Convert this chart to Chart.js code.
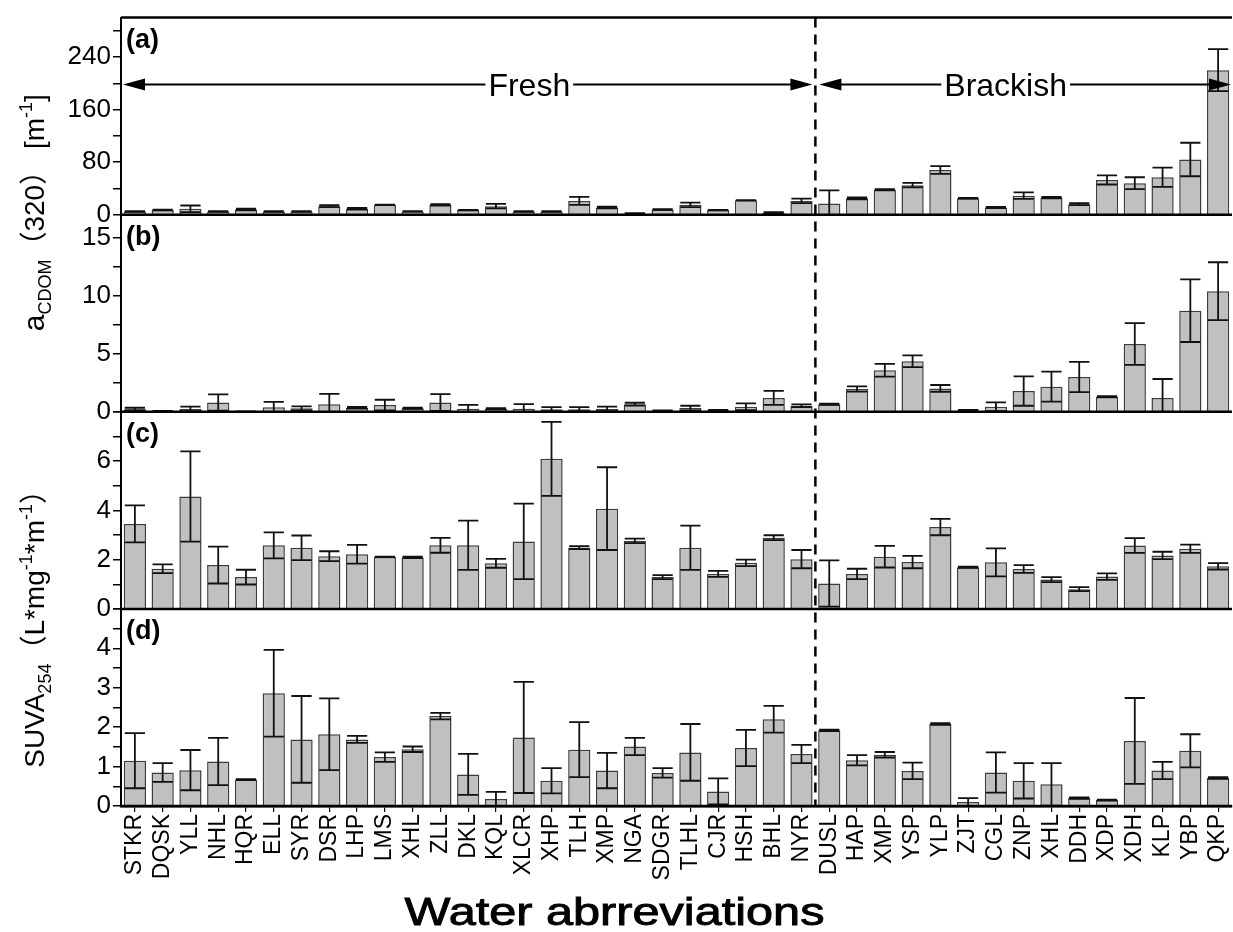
<!DOCTYPE html>
<html>
<head>
<meta charset="utf-8">
<script src="https://cdn.jsdelivr.net/npm/chart.js@4.4.1/dist/chart.umd.min.js"></script>
<style>
  html, body { margin: 0; padding: 0; background: #fff; }
</style>
</head>
<body>
<canvas id="chart" width="1233" height="932"></canvas>
<script>
// sites, fresh waters first then brackish
const sites = ['STKR', 'DQSK', 'YLL', 'NHL', 'HQR', 'ELL', 'SYR', 'DSR', 'LHP', 'LMS',
  'XHL', 'ZLL', 'DKL', 'KQL', 'XLCR', 'XHP', 'TLH', 'XMP', 'NGA', 'SDGR',
  'TLHL', 'CJR', 'HSH', 'BHL', 'NYR',
  'DUSL', 'HAP', 'XMP', 'YSP', 'YLP', 'ZJT', 'CGL', 'ZNP', 'XHL', 'DDH',
  'XDP', 'XDH', 'KLP', 'YBP', 'QKP'];
const freshCount = 25;

// (a) aCDOM(320)
const panelA = [5, 7, 9, 5, 8, 5, 5, 13, 9, 15, 5, 15, 7, 13, 5, 5, 21, 11, 2, 8, 15, 7, 22, 3, 21,
  17, 25, 38, 45, 68, 25, 11, 29, 26, 16, 53, 48, 57, 84, 220];
const panelAErr = [0.5, 0.5, 5, 0.5, 1.2, 0.5, 0.5, 1.5, 1.2, 0.3, 0.3, 1.2, 0.3, 3.5, 0.5, 0.5, 6, 1.2, 0.3, 0.5, 3.5, 0.3, 0.3, 1, 3.5,
  20, 1.5, 1, 3.5, 6, 0.5, 0.8, 5, 1.2, 1.5, 7, 9, 14.5, 25.5, 32];

// (b)
const panelB = [0.23, 0.05, 0.25, 0.8, 0.03, 0.4, 0.3, 0.65, 0.35, 0.58, 0.3, 0.8, 0.26, 0.26, 0.26, 0.23, 0.23, 0.25, 0.66, 0.1, 0.32, 0.14, 0.43, 1.2, 0.52,
  0.66, 1.97, 3.58, 4.36, 2.02, 0.14, 0.43, 1.79, 2.17, 3.0, 1.3, 5.85, 1.18, 8.72, 10.4];
const panelBErr = [0.12, 0.02, 0.2, 0.7, 0.01, 0.45, 0.17, 0.9, 0.08, 0.46, 0.05, 0.72, 0.34, 0.05, 0.4, 0.17, 0.17, 0.2, 0.12, 0.02, 0.2, 0.03, 0.29, 0.6, 0.12,
  0.05, 0.23, 0.55, 0.5, 0.29, 0.03, 0.38, 1.27, 1.3, 1.3, 0.05, 1.8, 1.65, 2.7, 2.5];

// (c) SUVA254
const panelC = [3.45, 1.63, 4.56, 1.78, 1.29, 2.58, 2.48, 2.14, 2.22, 2.11, 2.09, 2.58, 2.58, 1.85, 2.74, 6.09, 2.49, 4.07, 2.76, 1.29, 2.48, 1.42, 1.87, 2.89, 2.02,
  1.03, 1.42, 2.12, 1.9, 3.32, 1.69, 1.89, 1.62, 1.19, 0.8, 1.31, 2.57, 2.17, 2.44, 1.73];
const panelCErr = [0.75, 0.18, 1.83, 0.75, 0.3, 0.53, 0.5, 0.2, 0.38, 0.01, 0.03, 0.3, 1.0, 0.18, 1.53, 1.5, 0.06, 1.68, 0.09, 0.08, 0.9, 0.12, 0.13, 0.1, 0.37,
  0.94, 0.21, 0.44, 0.25, 0.33, 0.02, 0.57, 0.16, 0.1, 0.08, 0.13, 0.3, 0.15, 0.17, 0.13];

// (d)
const panelD = [1.15, 0.85, 0.91, 1.13, 0.67, 2.86, 1.69, 1.82, 1.69, 1.24, 1.44, 2.28, 0.8, 0.18, 1.74, 0.64, 1.43, 0.9, 1.51, 0.84, 1.36, 0.37, 1.47, 2.2, 1.32,
  1.92, 1.16, 1.3, 0.89, 2.08, 0.1, 0.85, 0.64, 0.55, 0.2, 0.15, 1.65, 0.9, 1.4, 0.71];
const panelDErr = [0.7, 0.24, 0.51, 0.6, 0.01, 1.1, 1.1, 0.91, 0.09, 0.12, 0.07, 0.08, 0.52, 0.18, 1.41, 0.32, 0.7, 0.45, 0.22, 0.12, 0.72, 0.33, 0.46, 0.34, 0.23,
  0.02, 0.13, 0.07, 0.21, 0.02, 0.1, 0.51, 0.45, 0.54, 0.02, 0.01, 1.09, 0.22, 0.42, 0.02];

const FONT = "'Liberation Sans', Arial, 'Noto Sans CJK SC', sans-serif";
Chart.defaults.font.family = FONT;
Chart.defaults.color = '#000';

function panelAxis(min, max, step, labelStep, weight) {
  return {
    type: 'linear',
    position: 'left',
    stack: 'panels',
    stackWeight: 1,
    weight: weight,
    min: min,
    max: max,
    border: { display: true, color: '#000', width: 2 },
    grid: { drawOnChartArea: false, drawTicks: true, tickLength: 8, color: '#000', lineWidth: 1.5 },
    ticks: {
      stepSize: step,
      includeBounds: false,
      autoSkip: false,
      padding: 2,
      font: { size: 26 },
      callback: v => {
        const r = v / labelStep;
        return (Math.abs(r - Math.round(r)) < 1e-6 && v < max) ? v : '';
      }
    },
    afterFit: s => { s.width = 121; }
  };
}

const errorBars = {
  id: 'errorBars',
  afterDatasetsDraw(chart) {
    const ctx = chart.ctx;
    const area = chart.chartArea;
    chart.data.datasets.forEach((ds, i) => {
      const meta = chart.getDatasetMeta(i);
      const ys = chart.scales[ds.yAxisID];
      ctx.save();
      ctx.beginPath();
      ctx.rect(area.left, ys.top, area.right - area.left, ys.bottom - ys.top);
      ctx.clip();
      ctx.strokeStyle = '#111';
      ctx.lineWidth = 1.8;
      meta.data.forEach((bar, j) => {
        const v = ds.data[j], e = ds.errors[j];
        const hi = ys.getPixelForValue(v + e);
        const lo = ys.getPixelForValue(v - e);
        const half = bar.width / 2 - 1;
        ctx.beginPath();
        ctx.moveTo(bar.x, hi); ctx.lineTo(bar.x, lo);
        ctx.moveTo(bar.x - half, hi); ctx.lineTo(bar.x + half, hi);
        ctx.moveTo(bar.x - half, lo); ctx.lineTo(bar.x + half, lo);
        ctx.stroke();
      });
      ctx.restore();
    });
  }
};

function arrowHead(ctx, x, y, dir) {
  ctx.beginPath();
  ctx.moveTo(x, y);
  ctx.lineTo(x - dir * 22, y - 6);
  ctx.lineTo(x - dir * 22, y + 6);
  ctx.closePath();
  ctx.fill();
}

function labelledArrow(ctx, x1, x2, y, text, tx) {
  ctx.font = '32px ' + FONT;
  const w = ctx.measureText(text).width;
  ctx.strokeStyle = '#000';
  ctx.fillStyle = '#000';
  ctx.lineWidth = 2;
  ctx.beginPath();
  ctx.moveTo(x1 + 10, y); ctx.lineTo(tx - w / 2 - 3, y);
  ctx.moveTo(tx + w / 2 + 3, y); ctx.lineTo(x2 - 10, y);
  ctx.stroke();
  arrowHead(ctx, x1, y, -1);
  arrowHead(ctx, x2, y, 1);
  ctx.textAlign = 'center';
  ctx.textBaseline = 'middle';
  ctx.fillText(text, tx, y + 3);
}

function richText(ctx, segs, cx, cy) {
  ctx.save();
  ctx.translate(cx, cy);
  ctx.rotate(-Math.PI / 2);
  ctx.textBaseline = 'alphabetic';
  ctx.textAlign = 'left';
  ctx.fillStyle = '#000';
  let total = 0;
  segs.forEach(s => { ctx.font = s[1] + 'px ' + FONT; total += ctx.measureText(s[0]).width; });
  let x = -total / 2;
  segs.forEach(s => {
    ctx.font = s[1] + 'px ' + FONT;
    ctx.fillText(s[0], x, s[2]);
    x += ctx.measureText(s[0]).width;
  });
  ctx.restore();
}

const decorations = {
  id: 'decorations',
  afterDraw(chart) {
    const ctx = chart.ctx;
    const area = chart.chartArea;
    const x = chart.scales.x;
    const panels = ['yA', 'yB', 'yC', 'yD'].map(id => chart.scales[id]);

    // panel frames
    ctx.save();
    ctx.strokeStyle = '#000';
    ctx.lineWidth = 2.5;
    ctx.beginPath();
    ctx.moveTo(area.left, panels[0].top); ctx.lineTo(area.right, panels[0].top);
    panels.forEach(p => { ctx.moveTo(area.left, p.bottom); ctx.lineTo(area.right, p.bottom); });
    ctx.stroke();

    // fresh / brackish divider
    const xd = (x.getPixelForValue(freshCount - 1) + x.getPixelForValue(freshCount)) / 2;
    ctx.lineWidth = 2.5;
    ctx.setLineDash([10, 7]);
    ctx.beginPath();
    ctx.moveTo(xd, area.top); ctx.lineTo(xd, area.bottom);
    ctx.stroke();
    ctx.setLineDash([]);

    const ay = panels[0].getPixelForValue(198);
    labelledArrow(ctx, area.left + 2, xd - 3, ay, 'Fresh', x.getPixelForValue(14.2));
    labelledArrow(ctx, xd + 4, area.right - 1, ay, 'Brackish', x.getPixelForValue(31.35));

    // panel letters
    ctx.font = 'bold 27px ' + FONT;
    ctx.textAlign = 'left';
    ctx.textBaseline = 'top';
    ['(a)', '(b)', '(c)', '(d)'].forEach((t, i) => ctx.fillText(t, area.left + 5, panels[i].top + 9));

    // x title, stretched and slightly heavier like the source figure
    ctx.save();
    ctx.translate((area.left + area.right) / 2 - 62, 925);
    ctx.scale(1.28, 1);
    ctx.font = '38px ' + FONT;
    ctx.textAlign = 'center';
    ctx.textBaseline = 'alphabetic';
    ctx.lineWidth = 0.9;
    ctx.fillText('Water abrreviations', 0, 0);
    ctx.strokeText('Water abrreviations', 0, 0);
    ctx.restore();
    ctx.restore();

    // y titles
    richText(ctx, [['a', 30, 0], ['CDOM', 18, 7], ['\uff08320\uff09', 28, 0], [' [m', 28, 0], ['-1', 18, -12], [']', 28, 0]],
      44, panels[0].bottom - 2);
    richText(ctx, [['SUVA', 28, 0], ['254', 18, 7], ['\uff08L*mg', 28, 0], ['-1', 18, -12], ['*m', 28, 0], ['-1', 18, -12], ['\uff09', 28, 0]],
      44, panels[2].bottom + 13);
  }
};

const barStyle = {
  backgroundColor: '#c0c0c0',
  borderColor: '#3c3c3c',
  borderWidth: 1.5,
  grouped: false,
  barPercentage: 0.8,
  categoryPercentage: 1
};

new Chart(document.getElementById('chart'), {
  type: 'bar',
  data: {
    labels: sites,
    datasets: [
      { ...barStyle, label: '(a)', data: panelA, errors: panelAErr, yAxisID: 'yA' },
      { ...barStyle, label: '(b)', data: panelB, errors: panelBErr, yAxisID: 'yB' },
      { ...barStyle, label: '(c)', data: panelC, errors: panelCErr, yAxisID: 'yC' },
      { ...barStyle, label: '(d)', data: panelD, errors: panelDErr, yAxisID: 'yD' }
    ]
  },
  options: {
    responsive: false,
    animation: false,
    devicePixelRatio: 1,
    layout: { padding: { top: 13, right: 1, left: 0, bottom: 0 } },
    plugins: { legend: { display: false }, tooltip: { enabled: false } },
    scales: {
      x: {
        type: 'category',
        border: { display: true, color: '#000', width: 2.5 },
        grid: { drawOnChartArea: false, offset: false, tickLength: 6, color: '#000', lineWidth: 1.2 },
        ticks: { autoSkip: false, maxRotation: 90, minRotation: 90, padding: 2, font: { size: 23 } },
        afterFit: s => { s.height = 126; s.paddingLeft = 0; s.paddingRight = 0; }
      },
      yD: panelAxis(0, 5, 0.5, 1, 1),
      yC: panelAxis(0, 8, 1, 2, 2),
      yB: panelAxis(0, 17, 2.5, 5, 3),
      yA: panelAxis(0, 300, 40, 80, 4)
    }
  },
  plugins: [errorBars, decorations]
});
</script>
</body>
</html>
